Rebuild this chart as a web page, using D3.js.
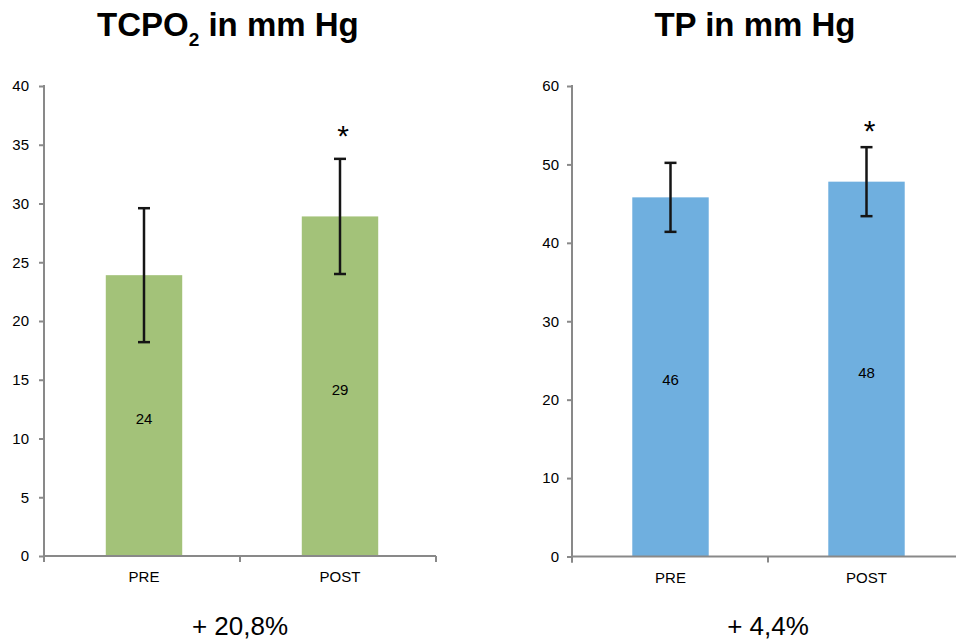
<!DOCTYPE html>
<html>
<head>
<meta charset="utf-8">
<script src="https://cdn.jsdelivr.net/npm/d3@7"></script>
<style>
    body { margin: 0; background: #fff; }
    svg { display: block; font-family: "Liberation Sans", Arial, sans-serif; }
</style>
</head>
<body>
<svg id="chart"></svg>
<script>
var width = 956,
    height = 640;

var svg = d3.select("#chart")
    .attr("width", width)
    .attr("height", height);

// data
var categories = ["PRE", "POST"];

var tcpoValues = [23.9, 28.9];
var tcpoErrors = [5.7, 4.9];
var tcpoTicks = [0, 5, 10, 15, 20, 25, 30, 35, 40];
var tcpoStars = ["", "*"];

var tpValues = [45.8, 47.8];
var tpErrors = [4.4, 4.4];
var tpTicks = [0, 10, 20, 30, 40, 50, 60];
var tpStars = ["", "*"];

var changeLabels = ["+ 20,8%", "+ 4,4%"];

var axisColor = "#898989";

function drawPanel(opts) {
    var g = svg.append("g");

    var x = d3.scaleBand()
        .domain(categories)
        .range([opts.left, opts.left + 392])
        .paddingInner(0.61)
        .paddingOuter(0.305);

    var y = d3.scaleLinear()
        .domain([0, d3.max(opts.ticks)])
        .range([opts.bottom, 86]);

    var step = x.step();
    var data = categories.map(function(c, i) {
        return {cat: c, value: opts.values[i], err: opts.errors[i], star: opts.stars[i]};
    });

    // bars
    g.selectAll("rect.bar").data(data).enter().append("rect")
        .attr("class", "bar")
        .attr("x", function(d) { return x(d.cat) + opts.shift; })
        .attr("width", x.bandwidth())
        .attr("y", function(d) { return y(d.value); })
        .attr("height", function(d) { return y(0) - y(d.value); })
        .attr("fill", opts.color);

    // value labels in the middle of the bars
    g.selectAll("text.val").data(data).enter().append("text")
        .attr("class", "val")
        .attr("x", function(d) { return x(d.cat) + opts.shift + x.bandwidth() / 2; })
        .attr("y", function(d) { return (y(d.value) + y(0)) / 2 + 8.5; })
        .attr("text-anchor", "middle")
        .style("font-size", "15px")
        .attr("fill", "#000")
        .text(function(d) { return d3.format(".0f")(d.value); });

    // y axis
    var yAxis = d3.axisLeft(y)
        .tickValues(opts.ticks)
        .tickSize(5)
        .tickPadding(opts.pad);

    var ya = g.append("g")
        .attr("transform", "translate(" + opts.left + ",0)")
        .call(yAxis);
    ya.select(".domain").remove();
    ya.selectAll("line").attr("stroke", axisColor).attr("stroke-width", 2);
    ya.selectAll("text")
        .style("font-size", "15px")
        .style("font-family", "Liberation Sans, Arial, sans-serif")
        .attr("fill", "#000");
    ya.append("line")
        .attr("x1", 0).attr("x2", 0)
        .attr("y1", y.range()[1] - 1).attr("y2", y(0) + 6)
        .attr("stroke", axisColor)
        .attr("stroke-width", 2);

    // x axis: line with ticks at the category boundaries
    var x0 = opts.left;
    g.append("line")
        .attr("x1", x0).attr("x2", x0 + step * categories.length)
        .attr("y1", y(0)).attr("y2", y(0))
        .attr("stroke", axisColor)
        .attr("stroke-width", 2);

    g.selectAll("line.xtick").data(d3.range(categories.length + 1)).enter().append("line")
        .attr("class", "xtick")
        .attr("x1", function(i) { return x0 + i * step; })
        .attr("x2", function(i) { return x0 + i * step; })
        .attr("y1", y(0))
        .attr("y2", y(0) + 6)
        .attr("stroke", axisColor)
        .attr("stroke-width", 2);

    g.selectAll("text.cat").data(categories).enter().append("text")
        .attr("class", "cat")
        .attr("x", function(d) { return x(d) + opts.shift + x.bandwidth() / 2; })
        .attr("y", y(0) + 26)
        .attr("text-anchor", "middle")
        .style("font-size", "15px")
        .attr("fill", "#000")
        .text(function(d) { return d; });

    // error bars
    var eb = g.selectAll("g.err").data(data).enter().append("g")
        .attr("class", "err")
        .attr("stroke", "#151515")
        .attr("stroke-width", 2.5);

    eb.append("line")
        .attr("x1", function(d) { return x(d.cat) + opts.shift + x.bandwidth() / 2; })
        .attr("x2", function(d) { return x(d.cat) + opts.shift + x.bandwidth() / 2; })
        .attr("y1", function(d) { return y(d.value + d.err); })
        .attr("y2", function(d) { return y(d.value - d.err); });

    eb.selectAll("line.cap")
        .data(function(d) { return [[d, d.value + d.err], [d, d.value - d.err]]; })
        .enter().append("line")
        .attr("class", "cap")
        .attr("x1", function(p) { return x(p[0].cat) + opts.shift + x.bandwidth() / 2 - 6; })
        .attr("x2", function(p) { return x(p[0].cat) + opts.shift + x.bandwidth() / 2 + 6; })
        .attr("y1", function(p) { return y(p[1]); })
        .attr("y2", function(p) { return y(p[1]); });

    // significance stars
    g.selectAll("text.star").data(data.filter(function(d) { return d.star; })).enter().append("text")
        .attr("class", "star")
        .attr("x", function(d) { return x(d.cat) + opts.shift + x.bandwidth() / 2 + 3; })
        .attr("y", function(d) { return y(d.value + d.err) - opts.starGap; })
        .attr("text-anchor", "middle")
        .style("font-size", "30px")
        .attr("fill", "#000")
        .text(function(d) { return d.star; });

    // percent change below
    g.append("text")
        .attr("x", x0 + step)
        .attr("y", 635)
        .attr("text-anchor", "middle")
        .style("font-size", "26px")
        .attr("fill", "#000")
        .text(opts.change);

    return g;
}

drawPanel({
    left: 44, bottom: 556, pad: 10, ticks: tcpoTicks, shift: 2,
    values: tcpoValues, errors: tcpoErrors, stars: tcpoStars,
    color: "#a3c279", change: changeLabels[0], starGap: 13
});

drawPanel({
    left: 572, bottom: 556.5, pad: 8, ticks: tpTicks, shift: 0.5,
    values: tpValues, errors: tpErrors, stars: tpStars,
    color: "#6fafdf", change: changeLabels[1], starGap: 6
});

// titles
var t1 = svg.append("text")
    .attr("x", 97)
    .attr("y", 36)
    .style("font-size", "33px")
    .style("font-weight", "bold")
    .attr("fill", "#000");
t1.append("tspan").text("TCPO");
t1.append("tspan").attr("dy", 10).style("font-size", "19px").text("2");
t1.append("tspan").attr("dy", -10).text(" in mm Hg");

svg.append("text")
    .attr("x", 755)
    .attr("y", 36)
    .attr("text-anchor", "middle")
    .style("font-size", "33px")
    .style("font-weight", "bold")
    .attr("fill", "#000")
    .text("TP in mm Hg");
</script>
</body>
</html>
